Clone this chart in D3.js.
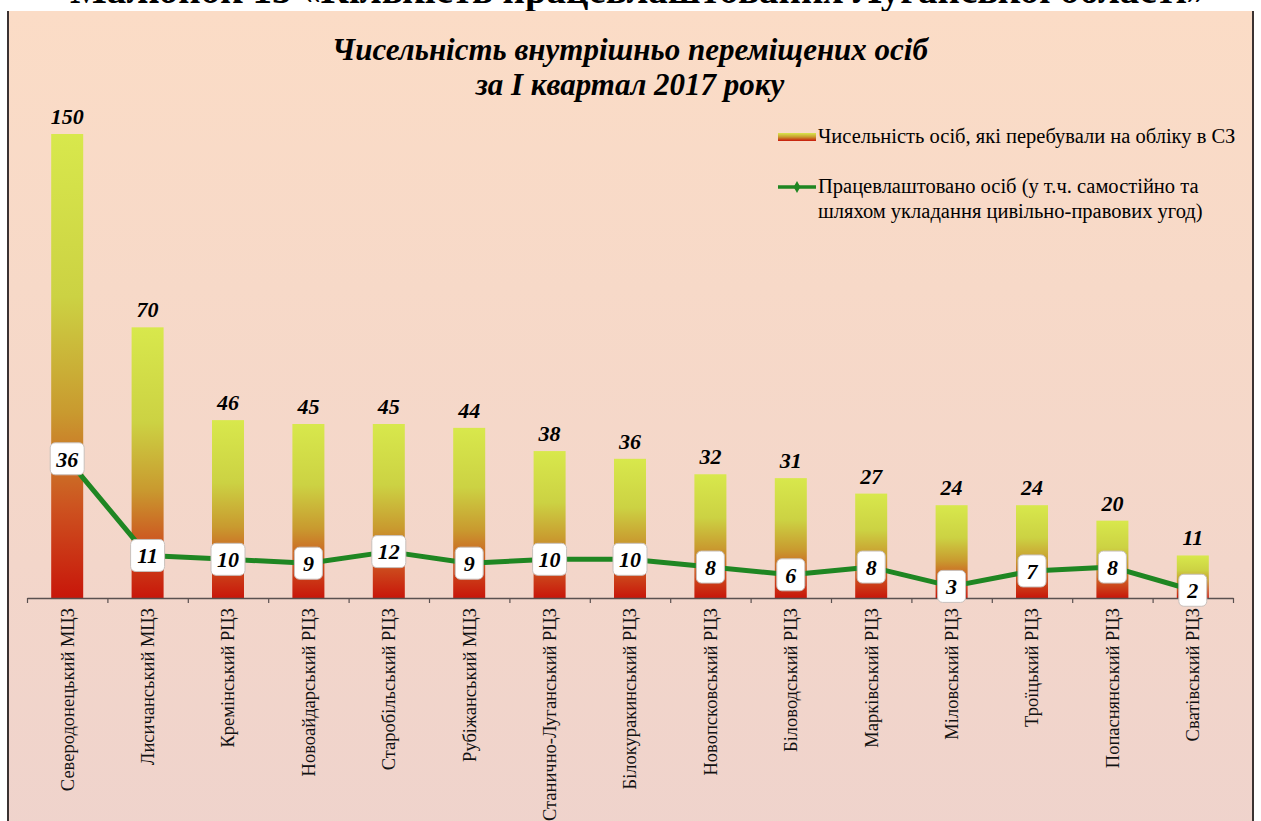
<!DOCTYPE html>
<html>
<head>
<meta charset="utf-8">
<script src="https://cdn.jsdelivr.net/npm/d3@7"></script>
<style>
  html, body { margin: 0; padding: 0; background: #fff; }
  svg { display: block; }
</style>
</head>
<body>
<div id="chart"></div>
<script>
const width = 1261;
const height = 821;

// data
const centers = ["Северодонецький МЦЗ", "Лисичанський МЦЗ", "Кремінський РЦЗ", "Новоайдарський РЦЗ",
  "Старобільський РЦЗ", "Рубіжанський МЦЗ", "Станично-Луганський РЦЗ", "Білокуракинський РЦЗ",
  "Новопсковський РЦЗ", "Біловодський РЦЗ", "Марківський РЦЗ", "Міловський РЦЗ",
  "Троїцький РЦЗ", "Попаснянський РЦЗ", "Сватівський РЦЗ"];
const registered = [150, 70, 46, 45, 45, 44, 38, 36, 32, 31, 27, 24, 24, 20, 11];
const employed = [36, 11, 10, 9, 12, 9, 10, 10, 8, 6, 8, 3, 7, 8, 2];

const barName = "Чисельність осіб, які перебували на обліку в СЗ";
const lineName = ["Працевлаштовано осіб (у т.ч. самостійно та", "шляхом укладання цивільно-правових угод)"];
const titleLines = ["Чисельність внутрішньо переміщених осіб", "за I квартал 2017 року"];

const serif = "'Liberation Serif', 'Times New Roman', serif";

const svg = d3.select("#chart").append("svg")
  .attr("width", width)
  .attr("height", height);

const defs = svg.append("defs");

// background gradient of the chart box
const bg = defs.append("linearGradient").attr("id", "bg")
  .attr("x1", 0).attr("y1", 0).attr("x2", 0).attr("y2", 1);
bg.append("stop").attr("offset", "0%").attr("stop-color", "#fbdcc6");
bg.append("stop").attr("offset", "100%").attr("stop-color", "#efd3cc");

// bar gradient (per bar)
const barGrad = defs.append("linearGradient").attr("id", "barGrad")
  .attr("x1", 0).attr("y1", 0).attr("x2", 0).attr("y2", 1);
[["0%", "#d8e84c"], ["35%", "#ccd243"], ["60%", "#c99a2f"], ["80%", "#cd5420"], ["100%", "#c8160a"]]
  .forEach(s => barGrad.append("stop").attr("offset", s[0]).attr("stop-color", s[1]));

// page heading (cut at the top)
svg.append("text")
  .attr("x", 638).attr("y", 3)
  .attr("text-anchor", "middle")
  .style("font-family", serif)
  .style("font-weight", "bold")
  .style("font-size", "39px")
  .text("Малюнок 13 «Кількість працевлаштованих Луганської області»");

// chart box
svg.append("rect")
  .attr("x", 7).attr("y", 11)
  .attr("width", 1246).attr("height", 830)
  .attr("fill", "url(#bg)");
svg.append("line").attr("x1", 8).attr("x2", 8).attr("y1", 11).attr("y2", height)
  .attr("stroke", "#3b3232").attr("stroke-width", 2);
svg.append("line").attr("x1", 1253).attr("x2", 1253).attr("y1", 11).attr("y2", height)
  .attr("stroke", "#3b3232").attr("stroke-width", 2);

// title
svg.append("g").selectAll("text")
  .data(titleLines)
  .enter().append("text")
  .attr("x", 630)
  .attr("y", (d, i) => 60 + i * 35)
  .attr("text-anchor", "middle")
  .style("font-family", serif)
  .style("font-weight", "bold")
  .style("font-style", "italic")
  .style("font-size", "31px")
  .text(d => d);

// scales
const xScale = d3.scaleBand()
  .domain(centers)
  .range([27, 1233])
  .padding(0);
const yScale = d3.scaleLinear()
  .domain([0, 120])
  .range([598, 134])
  .clamp(true);
const barW = 32;

// bars
svg.append("g").selectAll("rect")
  .data(registered)
  .enter().append("rect")
  .attr("x", (d, i) => xScale(centers[i]) + (xScale.bandwidth() - barW) / 2)
  .attr("y", d => yScale(d))
  .attr("width", barW)
  .attr("height", d => yScale(0) - yScale(d))
  .attr("fill", "url(#barGrad)");

// bar value labels
svg.append("g").selectAll("text")
  .data(registered)
  .enter().append("text")
  .attr("x", (d, i) => xScale(centers[i]) + xScale.bandwidth() / 2)
  .attr("y", d => yScale(d) - 10)
  .attr("text-anchor", "middle")
  .style("font-family", serif)
  .style("font-weight", "bold")
  .style("font-style", "italic")
  .style("font-size", "22px")
  .text(d => d);

// x axis: ticks at band boundaries
const tickScale = d3.scaleLinear().domain([0, centers.length]).range(xScale.range());
const xTicks = d3.axisBottom(tickScale)
  .tickValues(d3.range(0, centers.length + 1))
  .tickSize(5)
  .tickSizeOuter(0)
  .tickFormat("");
const gTicks = svg.append("g")
  .attr("transform", "translate(0,598)")
  .call(xTicks);
gTicks.select(".domain").attr("stroke", "#5a5050").attr("stroke-width", 1.5);
gTicks.selectAll(".tick line").attr("stroke", "#5a5050").attr("stroke-width", 1.2);

const xAxis = d3.axisBottom(xScale).tickSize(0);
const gx = svg.append("g")
  .attr("transform", "translate(0,598)")
  .call(xAxis);
gx.select(".domain").remove();
gx.selectAll("text")
  .attr("transform", "rotate(-90)")
  .attr("text-anchor", "end")
  .attr("x", -10)
  .attr("y", 0)
  .attr("dy", "0.35em")
  .style("font-family", serif)
  .style("font-size", "18.5px")
  .attr("fill", "#111");

// line series
const line = d3.line()
  .x((d, i) => xScale(centers[i]) + xScale.bandwidth() / 2)
  .y(d => yScale(d));
svg.append("path")
  .datum(employed)
  .attr("d", line)
  .attr("fill", "none")
  .attr("stroke", "#1f8622")
  .attr("stroke-width", 5)
  .attr("stroke-linejoin", "round");

// line value boxes
const boxes = svg.append("g").selectAll("g")
  .data(employed)
  .enter().append("g")
  .attr("transform", (d, i) => "translate(" + (xScale(centers[i]) + xScale.bandwidth() / 2) + "," + yScale(d) + ")");
boxes.append("rect")
  .attr("x", d => d >= 10 ? -17 : -14)
  .attr("y", -16)
  .attr("width", d => d >= 10 ? 34 : 28)
  .attr("height", 32)
  .attr("rx", 5)
  .attr("fill", "#ffffff")
  .attr("stroke", "#c8c0bc")
  .attr("stroke-width", 1);
boxes.append("text")
  .attr("text-anchor", "middle")
  .attr("dy", "0.35em")
  .style("font-family", serif)
  .style("font-weight", "bold")
  .style("font-style", "italic")
  .style("font-size", "22px")
  .text(d => d);

// legend
const legGrad = defs.append("linearGradient").attr("id", "legGrad")
  .attr("x1", 0).attr("y1", 0).attr("x2", 0).attr("y2", 1);
[["0%", "#d8e84c"], ["50%", "#c99a2f"], ["100%", "#c8160a"]]
  .forEach(s => legGrad.append("stop").attr("offset", s[0]).attr("stop-color", s[1]));

const legend = svg.append("g");
legend.append("rect")
  .attr("x", 778).attr("y", 133)
  .attr("width", 38).attr("height", 8)
  .attr("fill", "url(#legGrad)");
legend.append("text")
  .attr("x", 818).attr("y", 143)
  .style("font-family", serif)
  .style("font-size", "20.5px")
  .text(barName);

legend.append("line")
  .attr("x1", 778).attr("x2", 816)
  .attr("y1", 187).attr("y2", 187)
  .attr("stroke", "#1f8622").attr("stroke-width", 3.5);
legend.append("path")
  .attr("d", d3.symbol(d3.symbolDiamond, 40)())
  .attr("transform", "translate(797,187)")
  .attr("fill", "#1f8622");
legend.selectAll("text.l2")
  .data(lineName)
  .enter().append("text")
  .attr("class", "l2")
  .attr("x", 818)
  .attr("y", (d, i) => 193 + i * 25)
  .style("font-family", serif)
  .style("font-size", "20.5px")
  .text(d => d);
</script>
</body>
</html>
